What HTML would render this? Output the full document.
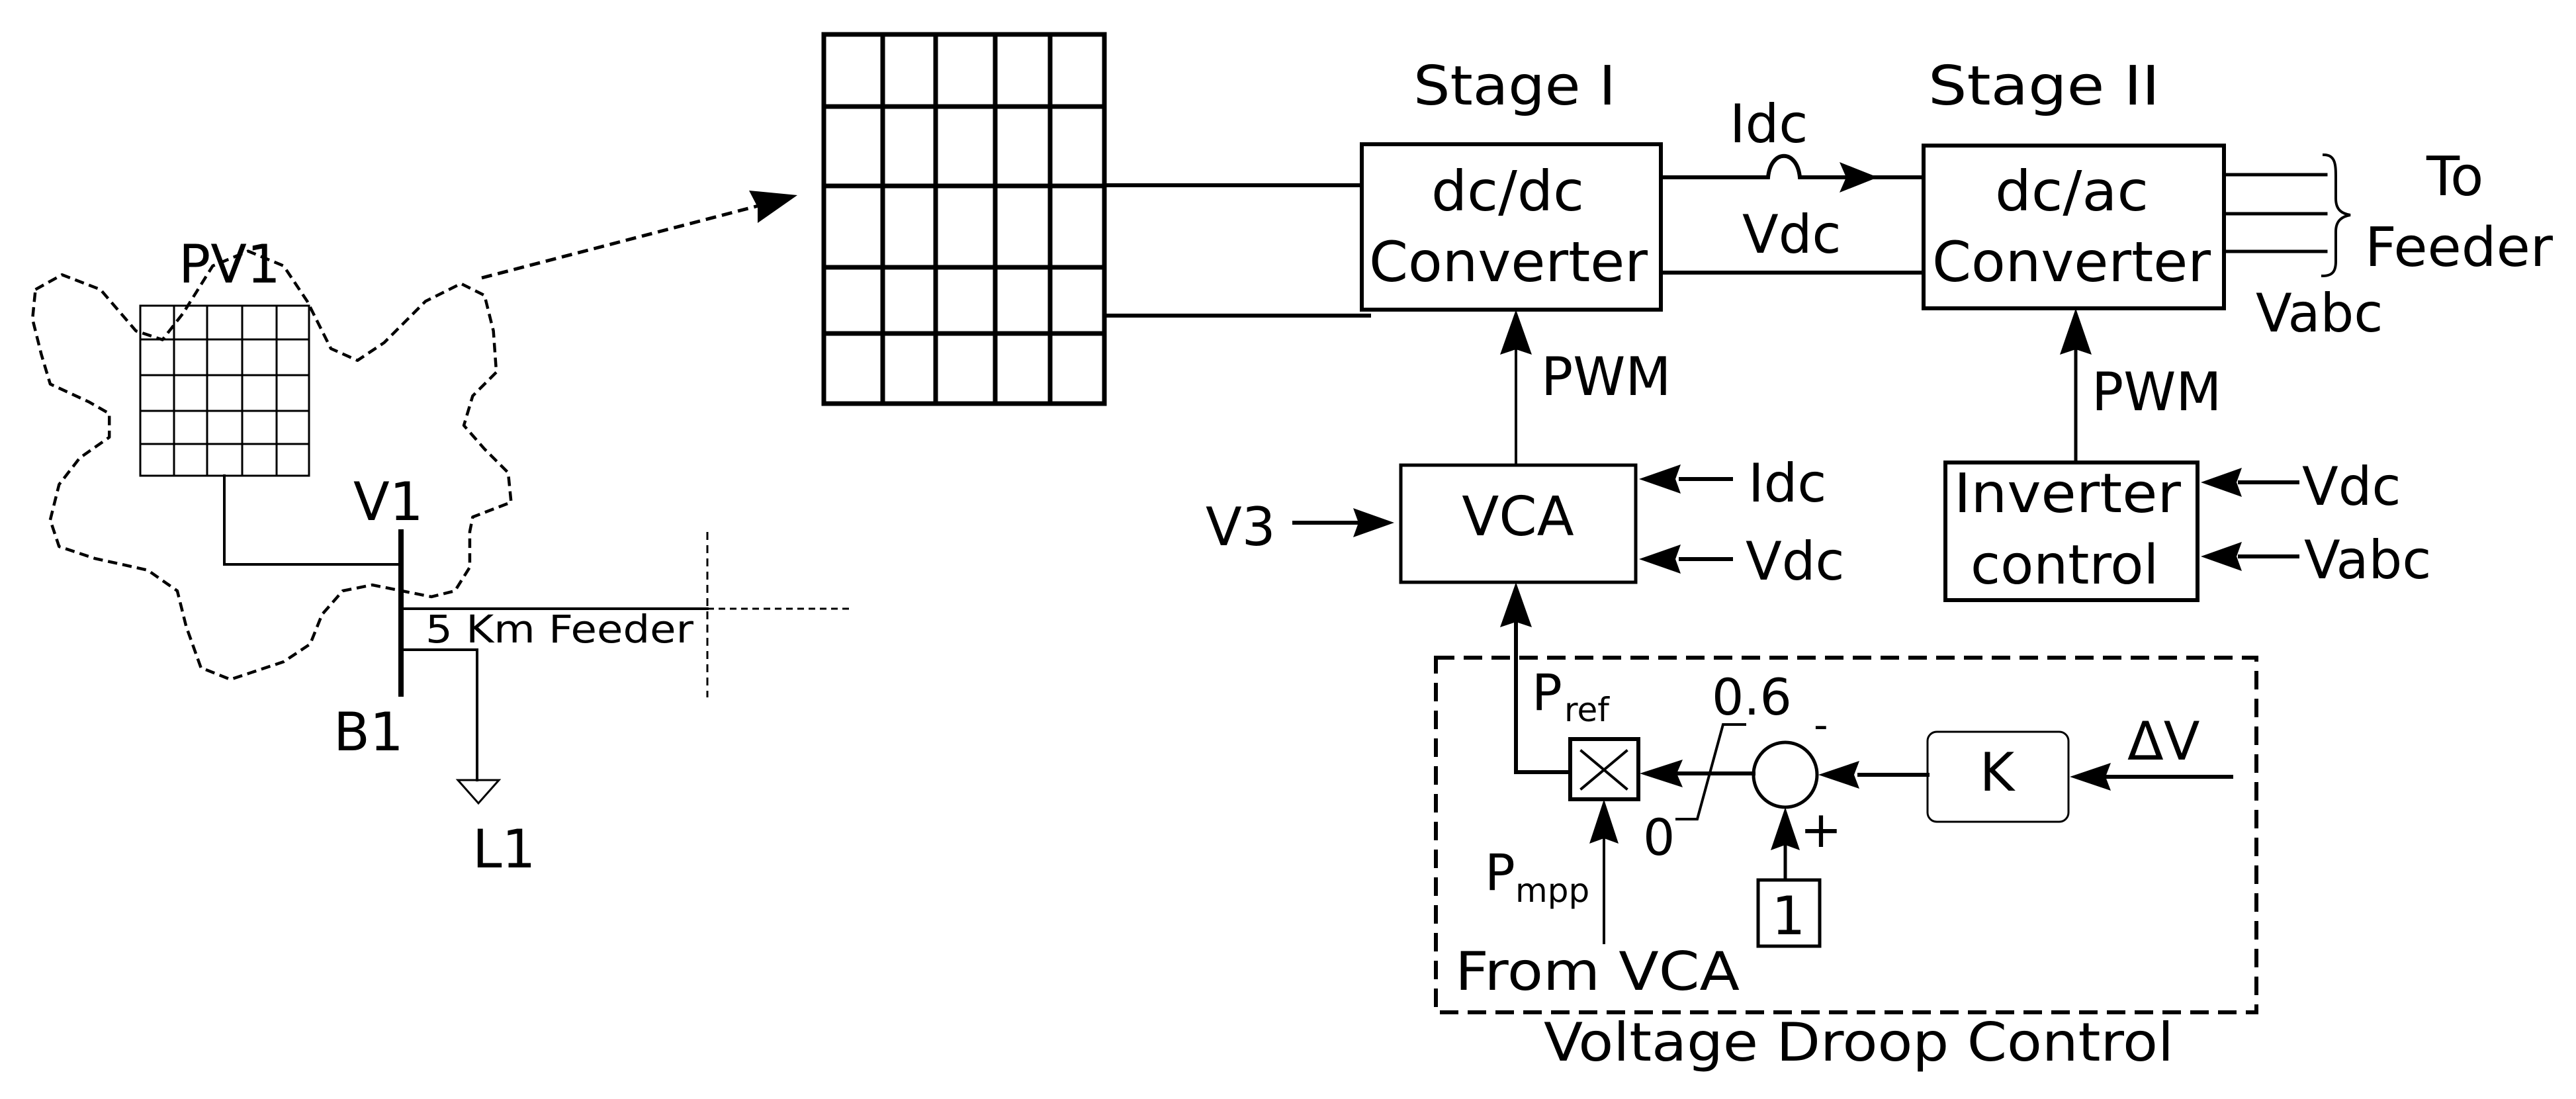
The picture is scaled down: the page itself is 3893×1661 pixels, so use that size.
<!DOCTYPE html>
<html><head><meta charset="utf-8"><style>
html,body{margin:0;padding:0;background:#fff;}
svg{display:block;}
text{font-family:"DejaVu Sans","Liberation Sans",sans-serif;fill:#000;}
</style></head><body>
<svg width="3893" height="1661" viewBox="0 0 3893 1661" xmlns="http://www.w3.org/2000/svg">
<rect width="3893" height="1661" fill="#fff"/>
<g fill="none" stroke="#000" stroke-linecap="square">
<!-- cloud -->
<g transform="scale(0.893)">
<path d="M60,490 L105,465 L170,490 L230,560 L275,575 L310,530 L360,450 L420,425 L480,450 L520,510 L560,590 L605,610 L650,580 L720,510 L780,480 L820,500 L835,560 L840,630 L800,670 L785,720 L820,760 L860,800 L865,850 L800,875 L795,900 L795,960 L770,1000 L730,1010 L680,1000 L630,990 L580,1000 L545,1040 L525,1090 L480,1120 L390,1150 L340,1130 L315,1060 L300,1000 L250,965 L160,945 L100,925 L85,880 L100,820 L135,775 L185,740 L185,700 L150,680 L85,650 L70,600 L55,540 Z" stroke-width="5" stroke-dasharray="16,9" stroke-linejoin="round" stroke-linecap="butt"/>
</g>
<!-- small PV grid -->
<g stroke-width="3">
<rect x="212" y="462" width="255" height="257"/>
<line x1="263" y1="462" x2="263" y2="719"/><line x1="313" y1="462" x2="313" y2="719"/><line x1="366" y1="462" x2="366" y2="719"/><line x1="418" y1="462" x2="418" y2="719"/>
<line x1="212" y1="513" x2="467" y2="513"/><line x1="212" y1="567" x2="467" y2="567"/><line x1="212" y1="621" x2="467" y2="621"/><line x1="212" y1="671" x2="467" y2="671"/>
</g>
<!-- bus -->
<polyline points="339,719 339,853 606,853" stroke-width="4"/>
<line x1="606" y1="804" x2="606" y2="1049" stroke-width="8"/>
<line x1="606" y1="920" x2="1069" y2="920" stroke-width="4"/>
<line x1="1069" y1="920" x2="1290" y2="920" stroke-width="3" stroke-dasharray="10,7" stroke-linecap="butt"/>
<line x1="1069" y1="804" x2="1069" y2="1054" stroke-width="3" stroke-dasharray="12,8" stroke-linecap="butt"/>
<polyline points="606,982 721,982 721,1179" stroke-width="4"/>
<polygon points="692,1179 754,1179 723,1214" stroke-width="3"/>
<!-- dashed arrow -->
<line x1="728" y1="420" x2="1150" y2="310" stroke-width="5" stroke-dasharray="16,9" stroke-linecap="butt"/>
<polygon points="1205,295 1132,288 1145,313 1145,337" fill="#000" stroke="none"/>
<!-- big grid -->
<g stroke-width="7">
<rect x="1245" y="52" width="424" height="558"/>
<line x1="1334" y1="52" x2="1334" y2="610"/><line x1="1414" y1="52" x2="1414" y2="610"/><line x1="1504" y1="52" x2="1504" y2="610"/><line x1="1587" y1="52" x2="1587" y2="610"/>
<line x1="1245" y1="161" x2="1669" y2="161"/><line x1="1245" y1="281" x2="1669" y2="281"/><line x1="1245" y1="404" x2="1669" y2="404"/><line x1="1245" y1="504" x2="1669" y2="504"/>
</g>
<line x1="1669" y1="280" x2="2058" y2="280" stroke-width="6"/>
<line x1="1669" y1="477" x2="2069" y2="477" stroke-width="6"/>
<!-- dc/dc -->
<rect x="2058" y="218" width="452" height="250" stroke-width="6"/>
<path d="M2510,268 L2672,268 C2676,225 2716,225 2720,268 L2906,268" stroke-width="6"/>
<line x1="2510" y1="412" x2="2906" y2="412" stroke-width="6"/>
<!-- dc/ac -->
<rect x="2907" y="220" width="454" height="246" stroke-width="6"/>
<line x1="3361" y1="264" x2="3515" y2="264" stroke-width="5"/>
<line x1="3361" y1="323" x2="3515" y2="323" stroke-width="5"/>
<line x1="3361" y1="380" x2="3515" y2="380" stroke-width="5"/>
<path d="M3512,234 C3530,234 3530,250 3530,270 L3530,300 C3530,318 3540,323 3552,325 C3540,327 3530,333 3530,350 L3530,395 C3530,410 3525,417 3510,417" stroke-width="4"/>
<!-- PWM lines -->
<line x1="2291" y1="530" x2="2291" y2="703" stroke-width="4"/>
<line x1="3137" y1="530" x2="3137" y2="699" stroke-width="5"/>
<!-- VCA -->
<rect x="2117" y="703" width="355" height="177" stroke-width="5"/>
<line x1="2540" y1="724" x2="2616" y2="724" stroke-width="6"/>
<line x1="2540" y1="845" x2="2616" y2="845" stroke-width="6"/>
<line x1="1956" y1="790" x2="2050" y2="790" stroke-width="6"/>
<!-- Inverter control -->
<rect x="2940" y="699" width="381" height="208" stroke-width="6"/>
<line x1="3385" y1="729" x2="3472" y2="729" stroke-width="6"/>
<line x1="3385" y1="841" x2="3472" y2="841" stroke-width="6"/>
<!-- droop box -->
<rect x="2170" y="994" width="1240" height="536" stroke-width="6" stroke-dasharray="28,14" stroke-linecap="butt"/>
<polyline points="2291,940 2291,1167 2373,1167" stroke-width="6"/>
<rect x="2373" y="1117" width="103" height="91" stroke-width="6"/>
<line x1="2390" y1="1135" x2="2458" y2="1192" stroke-width="4"/>
<line x1="2458" y1="1135" x2="2390" y2="1192" stroke-width="4"/>
<line x1="2530" y1="1169" x2="2650" y2="1169" stroke-width="6"/>
<polyline points="2534,1238 2565,1238 2604,1095 2637,1095" stroke-width="4"/>
<ellipse cx="2698" cy="1171" rx="48" ry="49" stroke-width="5"/>
<line x1="2810" y1="1171" x2="2913" y2="1171" stroke-width="6"/>
<rect x="2913" y="1106" width="213" height="136" rx="14" stroke-width="3"/>
<line x1="3180" y1="1174" x2="3372" y2="1174" stroke-width="6"/>
<line x1="2698" y1="1275" x2="2698" y2="1330" stroke-width="5"/>
<rect x="2657" y="1330" width="93" height="100" stroke-width="5"/>
<line x1="2424" y1="1265" x2="2424" y2="1425" stroke-width="4"/>
</g>
<!-- arrowheads -->
<g fill="#000">
<polygon points="2838,268 2780,245 2790,268 2780,291"/>
<polygon points="2291,468 2267,536 2291,528 2315,536"/>
<polygon points="3137,466 3113,536 3137,528 3161,536"/>
<polygon points="2477,724 2540,702 2532,724 2540,746"/>
<polygon points="2477,845 2540,823 2532,845 2540,867"/>
<polygon points="2107,790 2045,768 2053,790 2045,812"/>
<polygon points="3326,729 3388,707 3380,729 3388,751"/>
<polygon points="3326,841 3388,819 3380,841 3388,863"/>
<polygon points="2291,880 2267,948 2291,940 2315,948"/>
<polygon points="2478,1169 2543,1148 2534,1169 2543,1190"/>
<polygon points="2748,1171 2810,1150 2802,1171 2810,1192"/>
<polygon points="3128,1174 3190,1153 3182,1174 3190,1195"/>
<polygon points="2698,1220 2676,1285 2698,1277 2720,1285"/>
<polygon points="2424,1208 2402,1275 2424,1267 2446,1275"/>
</g>
<!-- texts -->
<g font-size="80">
<text x="270" y="427">PV1</text>
<text x="534" y="786">V1</text>
<text x="504" y="1134">B1</text>
<text x="714" y="1311">L1</text>
<text x="643" y="971" font-size="58" textLength="405" lengthAdjust="spacingAndGlyphs">5 Km Feeder</text>
<text x="2136" y="158" font-size="82" textLength="306" lengthAdjust="spacingAndGlyphs">Stage I</text>
<text x="2914" y="158" font-size="82" textLength="350" lengthAdjust="spacingAndGlyphs">Stage II</text>
<text x="2163" y="318" font-size="84" textLength="231" lengthAdjust="spacingAndGlyphs">dc/dc</text>
<text x="2069" y="425" font-size="84" textLength="421" lengthAdjust="spacingAndGlyphs">Converter</text>
<text x="3015" y="318" font-size="84" textLength="232" lengthAdjust="spacingAndGlyphs">dc/ac</text>
<text x="2920" y="425" font-size="84" textLength="421" lengthAdjust="spacingAndGlyphs">Converter</text>
<text x="2614" y="215">Idc</text>
<text x="2633" y="382">Vdc</text>
<text x="3667" y="295" font-size="82">To</text>
<text x="3574" y="402" font-size="82" textLength="284" lengthAdjust="spacingAndGlyphs">Feeder</text>
<text x="3409" y="501">Vabc</text>
<text x="2329" y="597">PWM</text>
<text x="3161" y="620">PWM</text>
<text x="2294" y="809" text-anchor="middle" font-size="82">VCA</text>
<text x="2642" y="758">Idc</text>
<text x="2638" y="876">Vdc</text>
<text x="1822" y="824">V3</text>
<text x="2953" y="774" font-size="82" textLength="343" lengthAdjust="spacingAndGlyphs">Inverter</text>
<text x="2978" y="882" font-size="82">control</text>
<text x="3479" y="763">Vdc</text>
<text x="3482" y="874">Vabc</text>
<text x="2315" y="1073" font-size="76">P</text>
<text x="2364" y="1090" font-size="50">ref</text>
<text x="2587" y="1080" font-size="76">0.6</text>
<text x="2483" y="1292" font-size="76">0</text>
<text x="2741" y="1116" font-size="60">-</text>
<text x="2752" y="1280" font-size="76" text-anchor="middle">+</text>
<text x="3018" y="1195" text-anchor="middle">K</text>
<text x="3215" y="1148">ΔV</text>
<text x="2703" y="1412" text-anchor="middle">1</text>
<text x="2244" y="1345" font-size="76">P</text>
<text x="2290" y="1363" font-size="50">mpp</text>
<text x="2199" y="1496" textLength="430" lengthAdjust="spacingAndGlyphs">From VCA</text>
<text x="2333" y="1603" textLength="952" lengthAdjust="spacingAndGlyphs">Voltage Droop Control</text>
</g>
</svg>
</body></html>
